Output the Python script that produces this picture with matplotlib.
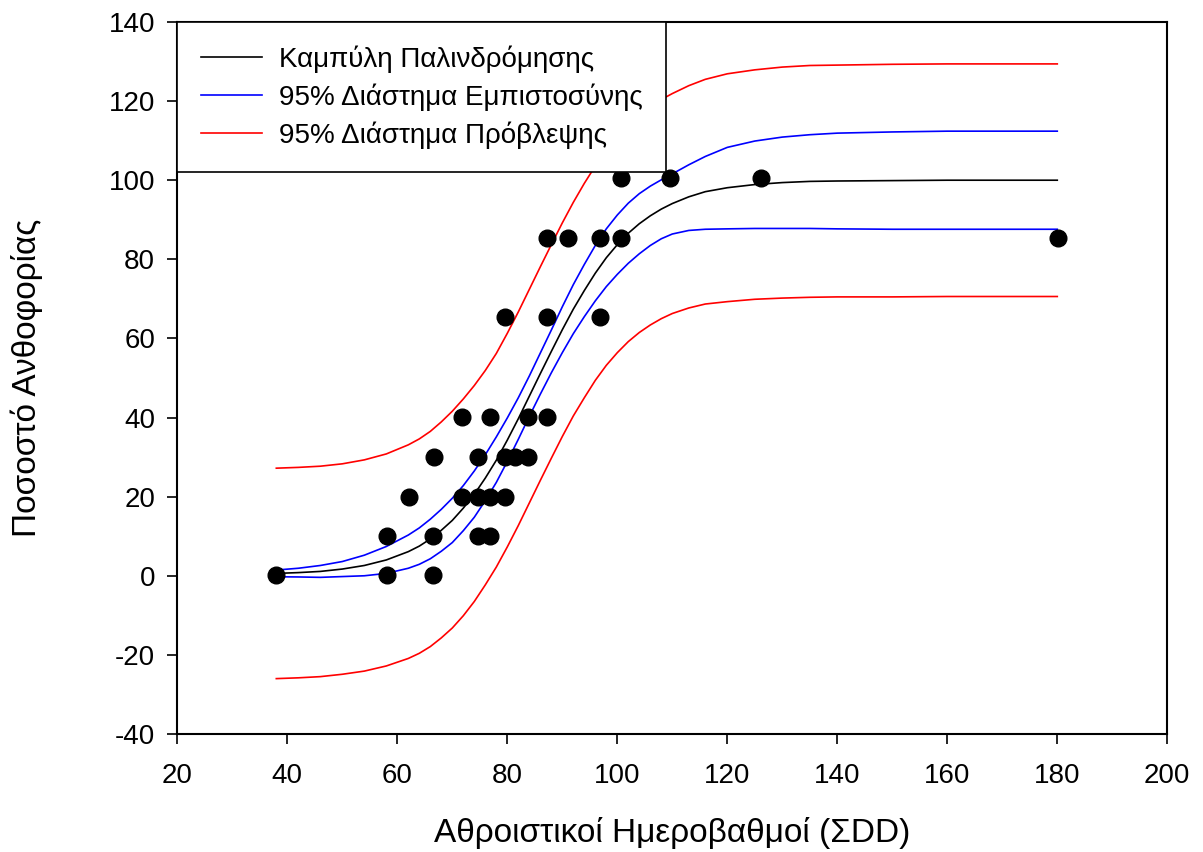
import matplotlib
matplotlib.use("Agg")
import matplotlib.pyplot as plt

plt.rcParams['font.family'] = ['Liberation Sans', 'DejaVu Sans']
plt.rcParams['axes.unicode_minus'] = False

# Observed points (cumulative degree-days vs flowering %)
obs_x = [38.0, 58.2, 58.2, 62.1, 66.5, 66.5, 66.6, 71.7, 71.7, 74.75, 74.75, 74.75,
         76.9, 76.9, 76.9, 79.6, 79.6, 79.6, 81.4, 83.7, 83.7, 87.2, 87.2, 87.2,
         91.1, 96.9, 96.9, 100.7, 100.7, 109.6, 126.1, 180.2]
obs_y = [0.3, 0.3, 10.1, 20.0, 0.3, 10.1, 30.1, 20.0, 40.2, 10.1, 20.0, 30.1,
         10.1, 20.0, 40.2, 20.0, 30.1, 65.5, 30.1, 30.1, 40.2, 40.2, 65.5, 85.3,
         85.3, 65.5, 85.3, 85.3, 100.5, 100.5, 100.5, 85.3]

# Curves
curve_x = [38, 42, 46, 50, 54, 58, 62, 64, 66, 68, 70, 72, 74, 76, 78, 80, 82, 84,
           86, 88, 90, 92, 94, 96, 98, 100, 102, 104, 106, 108, 110, 113, 116, 120,
           125, 130, 135, 140, 150, 160, 170, 180]
fit_y = [0.6, 0.8, 1.1, 1.7, 2.6, 4.0, 6.1, 7.5, 9.3, 11.5, 14.0, 17.1, 20.6, 24.7,
         29.2, 34.3, 39.7, 45.4, 51.1, 56.7, 62.2, 67.4, 72.1, 76.5, 80.4, 83.7,
         86.6, 89.0, 91.0, 92.7, 94.1, 95.8, 97.1, 98.1, 98.9, 99.4, 99.7, 99.8,
         99.9, 100.0, 100.0, 100.0]
conf_hi = [1.45, 1.9, 2.6, 3.6, 5.2, 7.4, 10.3, 12.1, 14.3, 16.8, 19.6, 22.8, 26.5,
           30.6, 35.1, 39.9, 45.0, 50.5, 56.3, 62.1, 68.0, 73.6, 78.7, 83.5, 87.7,
           91.2, 94.2, 96.6, 98.5, 100.1, 101.6, 103.9, 106.0, 108.3, 109.9, 110.9,
           111.5, 111.9, 112.2, 112.4, 112.4, 112.4]
conf_lo = [-0.25, -0.3, -0.4, -0.2, 0.0, 0.6, 1.9, 2.9, 4.3, 6.2, 8.4, 11.4, 14.8,
           19.0, 23.6, 28.9, 34.5, 40.3, 45.9, 51.3, 56.4, 61.2, 65.5, 69.5, 73.1,
           76.2, 79.0, 81.4, 83.5, 85.2, 86.4, 87.3, 87.6, 87.7, 87.8, 87.8, 87.8,
           87.7, 87.6, 87.6, 87.6, 87.6]
pred_hi = [27.2, 27.4, 27.7, 28.3, 29.3, 30.8, 33.1, 34.6, 36.5, 38.9, 41.6, 44.7,
           48.1, 51.9, 56.2, 61.3, 66.7, 72.4, 78.1, 83.7, 89.2, 94.4, 99.2, 103.6,
           107.6, 111.0, 114.0, 116.5, 118.6, 120.4, 121.9, 123.9, 125.5, 126.9,
           127.9, 128.6, 129.0, 129.1, 129.3, 129.4, 129.4, 129.4]
pred_lo = [-26.0, -25.8, -25.5, -24.9, -24.1, -22.8, -20.9, -19.6, -17.9, -15.7,
           -13.2, -10.1, -6.5, -2.3, 2.2, 7.3, 12.7, 18.4, 24.1, 29.7, 35.2, 40.4,
           45.0, 49.4, 53.2, 56.4, 59.2, 61.5, 63.4, 65.0, 66.3, 67.7, 68.7, 69.3,
           69.9, 70.2, 70.4, 70.5, 70.5, 70.6, 70.6, 70.6]

labels = ['Καμπύλη Παλινδρόμησης', '95% Διάστημα Εμπιστοσύνης', '95% Διάστημα Πρόβλεψης']

fig = plt.figure(figsize=(12.03, 8.52), dpi=100)
ax = fig.add_axes([0.1474, 0.1385, 0.8229, 0.8357])

lw = 1.2
ax.plot(curve_x, fit_y, color='black', lw=lw, label=labels[0])
ax.plot(curve_x, conf_hi, color='blue', lw=lw, label=labels[1])
ax.plot(curve_x, conf_lo, color='blue', lw=lw)
ax.plot(curve_x, pred_hi, color='red', lw=lw, label=labels[2])
ax.plot(curve_x, pred_lo, color='red', lw=lw)
ax.plot(obs_x, obs_y, 'o', color='black', markersize=12, zorder=3)

ax.set_xlim(20, 200)
ax.set_ylim(-40, 140)
ax.set_xticks(range(20, 201, 20))
ax.set_yticks(range(-40, 141, 20))
ax.tick_params(direction='out', length=7, width=1.2, labelsize=20)
ax.tick_params(axis='x', pad=14)
ax.tick_params(axis='y', pad=9)
for s in ax.spines.values():
    s.set_linewidth(1.5)

ax.set_xlabel('Αθροιστικοί Ημεροβαθμοί (ΣDD)', fontsize=24, labelpad=20)
ax.set_ylabel('Ποσοστό Ανθοφορίας', fontsize=24, labelpad=47)

leg = ax.legend(loc='upper left', borderaxespad=0, fontsize=20, fancybox=False,
                framealpha=1, edgecolor='black', handlelength=2.2,
                handletextpad=0.6, borderpad=0.85, labelspacing=0.37)
leg.get_frame().set_linewidth(1.2)

fig.savefig('out.png', dpi=100)
